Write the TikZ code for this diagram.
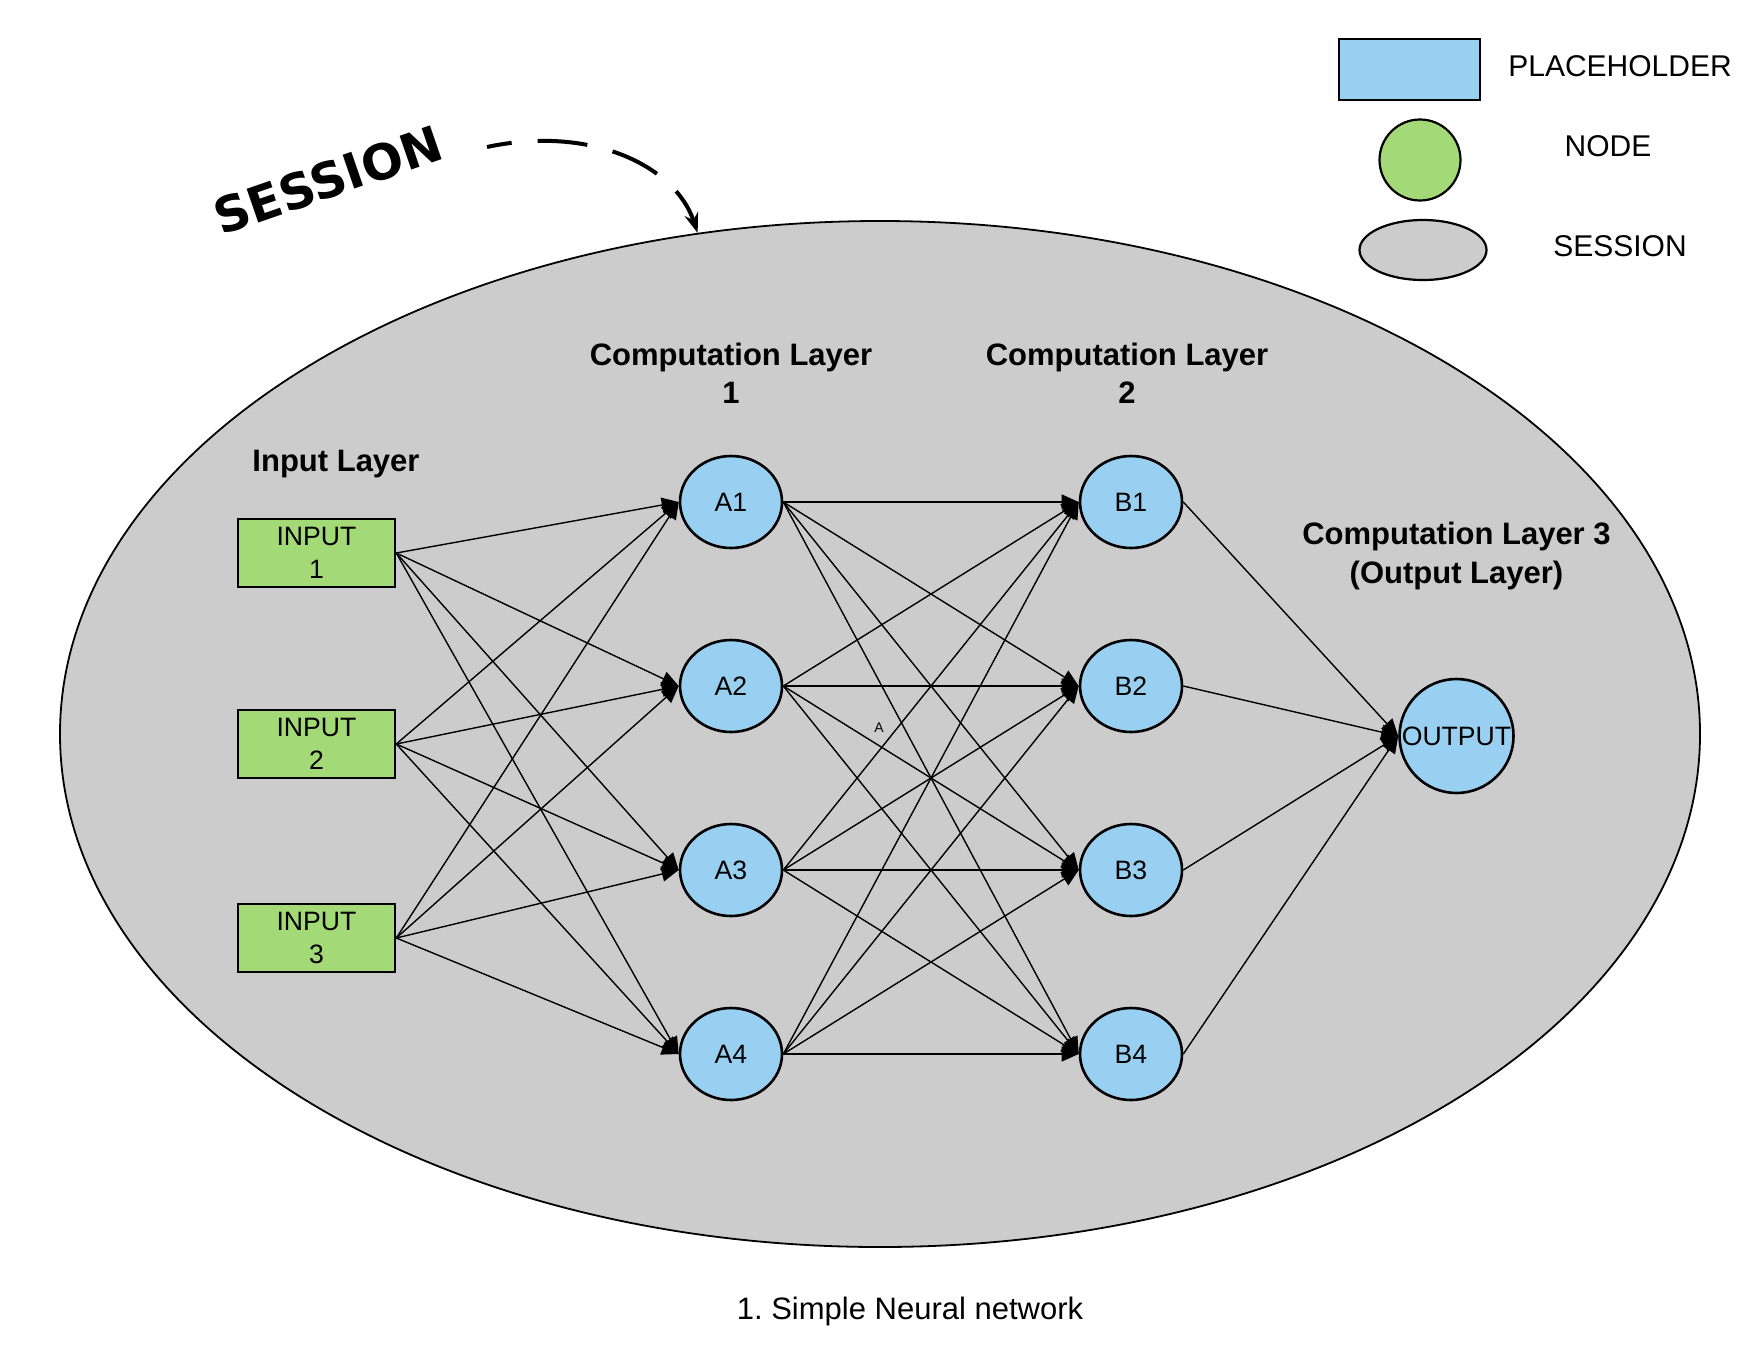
\documentclass[tikz,border=0pt]{standalone}
\usepackage{fontspec}
\setmainfont{Liberation Sans}
\newfontfamily\handfont{DejaVu Sans}
\usetikzlibrary{shapes.geometric,arrows.meta}

\definecolor{phblue}{HTML}{99D0F2}
\definecolor{nodegreen}{HTML}{A3D977}
\definecolor{sessiongray}{HTML}{CCCCCC}

\begin{document}
\begin{tikzpicture}[
		x=0.5pt, y=-0.5pt,
		unit/.style={ellipse, draw, line width=1.3pt, fill=phblue, minimum width=51pt, minimum height=46pt, inner sep=0pt, font=\fontsize{13.3pt}{16pt}\selectfont},
		inbox/.style={rectangle, draw, line width=1.3pt, fill=nodegreen, minimum width=78.5pt, minimum height=34pt, inner sep=0pt, align=center, font=\fontsize{13.3pt}{16.3pt}\selectfont},
		title/.style={align=center, font=\fontsize{15.5pt}{19.2pt}\selectfont\bfseries},
		legend/.style={font=\fontsize{15pt}{18pt}\selectfont},
		link/.style={line width=0.7pt, -{Triangle[length=8.5pt, width=7.5pt]}}
	]
  \useasboundingbox (0,0) rectangle (1760,1360);
  \node (session) [ellipse, draw, line width=0.9pt, fill=sessiongray, minimum width=820pt, minimum height=513pt, inner sep=0pt] at (880,734) {};
  % legend
  \node (leg_ph) [rectangle, draw, line width=1.1pt, fill=phblue, minimum width=70.5pt, minimum height=30.5pt, inner sep=0pt] at (1409.5,69.5) {};
  \node (leg_ph_label) [legend] at (1620,66) {PLACEHOLDER};
  \node (leg_node) [circle, draw, line width=1.1pt, fill=nodegreen, minimum size=40.5pt, inner sep=0pt] at (1420,160) {};
  \node (leg_node_label) [legend] at (1608,146) {NODE};
  \node (leg_session) [ellipse, draw, line width=1.1pt, fill=sessiongray, minimum width=63.5pt, minimum height=30pt, inner sep=0pt] at (1423,250) {};
  \node (leg_session_label) [legend] at (1620,246) {SESSION};
  % session tag
  \node (session_tag) [rotate=19, font={\fontsize{24.5pt}{28pt}\handfont\bfseries}] at (328,180) {SESSION};
  \coordinate (tag_start) at (487,147);
  \draw [line width=2pt, dash pattern=on 25pt off 13pt, dash phase=12.5pt, -{Stealth[length=10pt, width=7pt]}] (tag_start) .. controls (590,125) and (675,165) .. (session.110);
  % layer titles
  \node (in_title) [title] at (336,464) {Input Layer};
  \node (a_title) [title] at (731,373) {Computation Layer\\1};
  \node (b_title) [title] at (1127,373) {Computation Layer\\2};
  \node (out_title) [title] at (1456.5,556) {Computation Layer 3\\(Output Layer)};
  % layers
  \node (in_1) [inbox] at (316.5,553) {INPUT\\1};
  \node (in_2) [inbox] at (316.5,744) {INPUT\\2};
  \node (in_3) [inbox] at (316.5,938) {INPUT\\3};
  \node (a_1) [unit] at (731,502) {A1};
  \node (a_2) [unit] at (731,686) {A2};
  \node (a_3) [unit] at (731,870) {A3};
  \node (a_4) [unit] at (731,1054) {A4};
  \node (b_1) [unit] at (1131,502) {B1};
  \node (b_2) [unit] at (1131,686) {B2};
  \node (b_3) [unit] at (1131,870) {B3};
  \node (b_4) [unit] at (1131,1054) {B4};
  \node (out) [unit, circle, minimum size=57pt] at (1456.5,736) {OUTPUT};
  \node (a_mark) [font=\fontsize{7pt}{8pt}\selectfont] at (879,728) {A};
  \node (caption) [font=\fontsize{15.5pt}{18pt}\selectfont] at (910,1311) {1.\ Simple Neural network};
  % connections
  \path [link] (in_1.east) edge (a_1.west) edge (a_2.west) edge (a_3.west) edge (a_4.west);
  \path [link] (in_2.east) edge (a_1.west) edge (a_2.west) edge (a_3.west) edge (a_4.west);
  \path [link] (in_3.east) edge (a_1.west) edge (a_2.west) edge (a_3.west) edge (a_4.west);
  \path [link] (a_1.east) edge (b_1.west) edge (b_2.west) edge (b_3.west) edge (b_4.west);
  \path [link] (a_2.east) edge (b_1.west) edge (b_2.west) edge (b_3.west) edge (b_4.west);
  \path [link] (a_3.east) edge (b_1.west) edge (b_2.west) edge (b_3.west) edge (b_4.west);
  \path [link] (a_4.east) edge (b_1.west) edge (b_2.west) edge (b_3.west) edge (b_4.west);
  \path [link] (b_1.east) edge (out.west);
  \path [link] (b_2.east) edge (out.west);
  \path [link] (b_3.east) edge (out.west);
  \path [link] (b_4.east) edge (out.west);
\end{tikzpicture}
\end{document}
